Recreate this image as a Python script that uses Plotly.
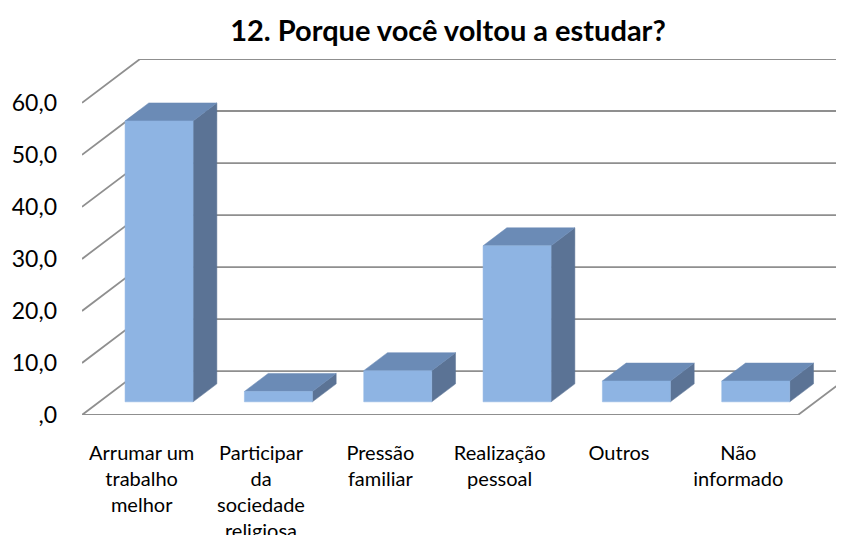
import plotly.graph_objects as go

# ---- data ----
categories = ["Arrumar um<br>trabalho<br>melhor",
              "Participar<br>da<br>sociedade<br>religiosa",
              "Pressão<br>familiar",
              "Realização<br>pessoal",
              "Outros",
              "Não<br>informado"]
values = [54.0, 2.0, 6.0, 30.0, 4.0, 4.0]
y_ticks = [0, 10, 20, 30, 40, 50, 60]
y_ticktext = [",0", "10,0", "20,0", "30,0", "40,0", "50,0", "60,0"]
title_text = "12. Porque você voltou a estudar?"

# ---- oblique 3D projection (in data units) ----
DEPTH_X = 0.486   # category units for full depth
DEPTH_Y = 8.43    # value units for full depth
D0, D1 = 0.30, 0.71   # bar depth span (fraction)
BAR_W = 0.57
n = len(values)
ymax = max(y_ticks)

FRONT = "#8EB4E3"
TOP = "#6B8BB6"
SIDE = "#5B7395"
GRID = "#8f8f8f"

fig = go.Figure()

def line(xs, ys):
    fig.add_trace(go.Scatter(x=xs, y=ys, mode="lines",
                             line=dict(color=GRID, width=1.8),
                             hoverinfo="skip", showlegend=False))

x_left = -0.5
x_right = n - 0.5
# left wall diagonals + back wall horizontals
for v in y_ticks:
    line([x_left, x_left + DEPTH_X, x_right + DEPTH_X],
         [v, v + DEPTH_Y, v + DEPTH_Y])
# floor front edge and right edge
line([x_left, x_right, x_right + DEPTH_X], [0, 0, DEPTH_Y])

def poly(xs, ys, color):
    fig.add_trace(go.Scatter(x=xs + [xs[0]], y=ys + [ys[0]], mode="lines",
                             fill="toself", fillcolor=color,
                             line=dict(color=color, width=0.5),
                             hoverinfo="skip", showlegend=False))

ox0, oy0 = D0 * DEPTH_X, D0 * DEPTH_Y
ox1, oy1 = D1 * DEPTH_X, D1 * DEPTH_Y
for i, v in enumerate(values):
    xl = i - BAR_W / 2
    xr = i + BAR_W / 2
    # side face
    poly([xr + ox0, xr + ox1, xr + ox1, xr + ox0],
         [oy0, oy1, v + oy1, v + oy0], SIDE)
    # top face
    poly([xl + ox0, xr + ox0, xr + ox1, xl + ox1],
         [v + oy0, v + oy0, v + oy1, v + oy1], TOP)
    # front face
    poly([xl + ox0, xr + ox0, xr + ox0, xl + ox0],
         [oy0, oy0, v + oy0, v + oy0], FRONT)

# page body has an 8px margin; compensate so the figure lands on the window
OFF = 8
W, H = 844 - OFF, 535 - OFF
ML, MR, MT, MB = 82 - OFF, 0, 59 - OFF, 535 - 415
px_per_cat = (798 - 82) / n
x_max = x_left + (W - ML - MR) / px_per_cat

fig.update_layout(
    width=W, height=H,
    margin=dict(l=ML, r=MR, t=MT, b=MB, autoexpand=False),
    paper_bgcolor="white", plot_bgcolor="white",
    showlegend=False,
    font=dict(family="Lato", color="#000000"),
    title=dict(text=title_text, x=(448 - OFF) / W, xref="container", xanchor="center",
               y=1 - (31 - OFF) / H, yref="container", yanchor="middle", automargin=False,
               font=dict(family="Lato", size=29, color="#000000", weight="bold")),
    xaxis=dict(range=[x_left, x_max], tickvals=list(range(n)), ticktext=categories,
               showgrid=False, zeroline=False, showline=False, ticks="",
               tickfont=dict(size=20, color="#000000"), ticklabelstandoff=24,
               automargin=False, fixedrange=True),
    yaxis=dict(range=[0, ymax + DEPTH_Y], tickvals=y_ticks, ticktext=y_ticktext,
               showgrid=False, zeroline=False, showline=False, ticks="",
               tickfont=dict(size=23, color="#000000"), ticklabelstandoff=24,
               automargin=False, fixedrange=True),
)

fig.write_html("out.html")
